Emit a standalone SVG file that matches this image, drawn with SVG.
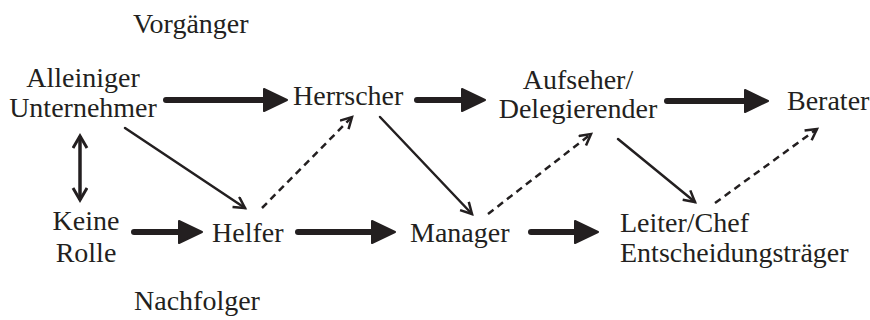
<svg xmlns="http://www.w3.org/2000/svg" width="870" height="320" viewBox="0 0 870 320">
<style>
.t{font-family:"Liberation Serif","Times New Roman",Tinos,Times,"DejaVu Serif","Noto Serif",serif;font-size:28px;fill:#231f20}
.c{text-anchor:middle}
.thick{stroke:#231f20;stroke-width:6;fill:none;stroke-linecap:round;marker-end:url(#big)}
.thin{stroke:#231f20;stroke-width:2.5;fill:none;stroke-linecap:round;marker-end:url(#vee)}
.dash{stroke:#231f20;stroke-width:2.5;fill:none;stroke-dasharray:7 5;marker-end:url(#vee)}
.dbl{stroke:#231f20;stroke-width:3.5;fill:none;marker-start:url(#vee2);marker-end:url(#vee2)}
</style>
<defs>
<marker id="big" markerUnits="userSpaceOnUse" markerWidth="26" markerHeight="26" refX="12" refY="12" orient="auto" viewBox="0 0 26 26">
<path d="M1,1 L24,12 L1,23 Z" fill="#231f20" stroke="#231f20" stroke-width="2" stroke-linejoin="round"/>
</marker>
<marker id="vee" markerUnits="userSpaceOnUse" markerWidth="16" markerHeight="16" refX="12" refY="7" orient="auto" viewBox="0 0 16 16">
<path d="M1,1 L12,7 L1,13" fill="none" stroke="#231f20" stroke-width="2.5" stroke-linejoin="miter" stroke-dasharray="none"/>
</marker>
<marker id="vee2" markerUnits="userSpaceOnUse" markerWidth="18" markerHeight="18" refX="13" refY="8" orient="auto-start-reverse" viewBox="0 0 18 18">
<path d="M1,1 L13,8 L1,15" fill="none" stroke="#231f20" stroke-width="3" stroke-linejoin="miter"/>
</marker>
</defs>
<g class="t">
<g id="label-vorgaenger"><text x="133" y="33">Vorgänger</text></g>
<g id="label-nachfolger"><text x="134" y="310">Nachfolger</text></g>
<g id="node-alleiniger"><text class="c" x="83" y="87">Alleiniger</text><text class="c" x="83" y="117">Unternehmer</text></g>
<g id="node-herrscher"><text x="293" y="105">Herrscher</text></g>
<g id="node-aufseher"><text class="c" x="578" y="89">Aufseher/</text><text class="c" x="578" y="118">Delegierender</text></g>
<g id="node-berater"><text x="787" y="110">Berater</text></g>
<g id="node-keine"><text class="c" x="86" y="230">Keine</text><text class="c" x="86" y="262">Rolle</text></g>
<g id="node-helfer"><text x="212" y="242">Helfer</text></g>
<g id="node-manager"><text x="410" y="242">Manager</text></g>
<g id="node-leiter"><text x="620" y="232">Leiter/Chef</text><text x="620" y="262">Entscheidungsträger</text></g>
</g>
<g id="connectors">
<line class="thick" x1="166" y1="100" x2="275" y2="100"/>
<line class="thick" x1="417" y1="100" x2="473" y2="100"/>
<line class="thick" x1="667" y1="101" x2="756" y2="101"/>
<line class="thick" x1="134" y1="232" x2="190" y2="232"/>
<line class="thick" x1="298" y1="232" x2="383" y2="232"/>
<line class="thick" x1="531" y1="232" x2="586" y2="232"/>
<line class="dbl" x1="80" y1="136" x2="80" y2="200"/>
<line class="thin" x1="125" y1="128" x2="245" y2="208"/>
<line class="thin" x1="380" y1="117" x2="472" y2="214"/>
<line class="thin" x1="618" y1="139" x2="695" y2="202"/>
<line class="dash" x1="262" y1="208" x2="352" y2="117"/>
<line class="dash" x1="488" y1="214" x2="591" y2="134"/>
<line class="dash" x1="715" y1="203" x2="817" y2="129"/>
</g>
</svg>
